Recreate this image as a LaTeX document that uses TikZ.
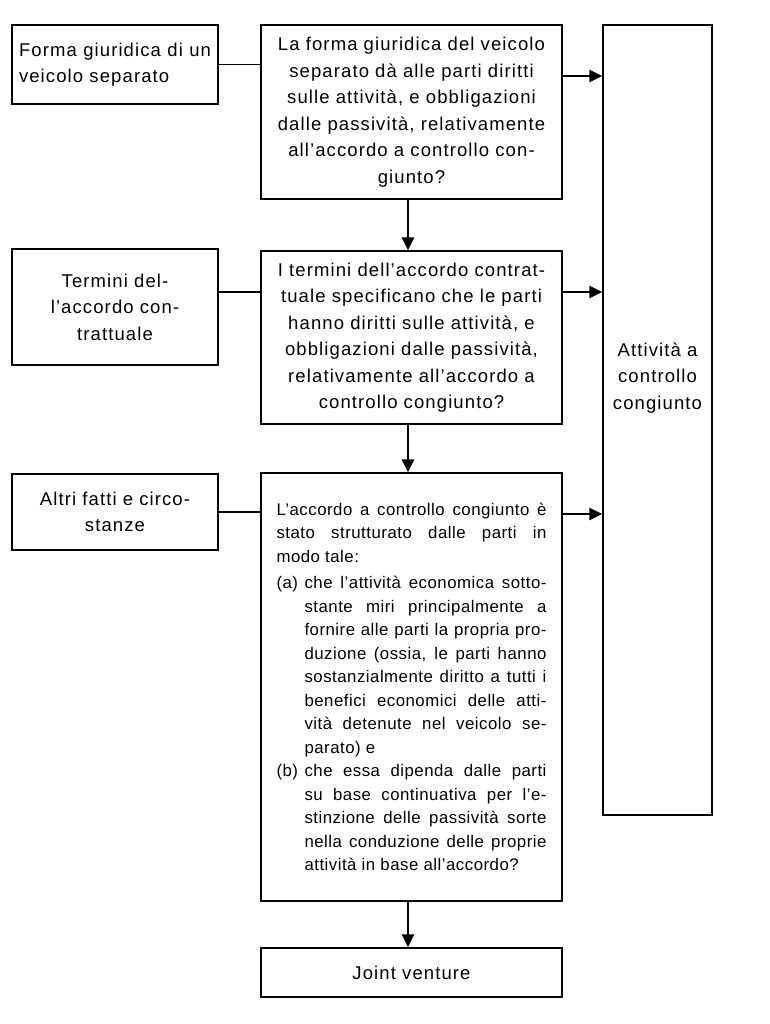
\documentclass[tikz,border=0pt]{standalone}
\usepackage{fontspec}
\setmainfont{Liberation Sans}[LetterSpace=6]
\usetikzlibrary{arrows.meta,calc}
\newenvironment{condlist}{\begin{list}{}{\leftmargin=28pt\labelwidth=28pt\labelsep=0pt
  \topsep=3pt\partopsep=0pt\parsep=0pt\itemsep=0pt\itemindent=0pt
  \def\makelabel##1{##1\hfil}}}{\end{list}}

\begin{document}
\begin{tikzpicture}[x=1pt,y=-1pt,
  >={Triangle[length=13pt,width=12pt]},
  box/.style={draw,line width=1.4pt,inner sep=0pt,font=\fontsize{18.5}{26.5}\selectfont},
  side/.style={box,minimum width=206pt,text width=192pt,align=center},
  quest/.style={box,minimum width=301pt,text width=282pt,align=center},
  item/.style={font=\fontsize{16.8}{23.5}\selectfont\addfontfeatures{LetterSpace=3},
               text width=270pt,align=justify},
  flow/.style={->,line width=2.4pt},
  link/.style={line width=1.3pt}
]
\useasboundingbox (0,0) rectangle (770,1024);

% Facts on the left, questions in the middle, outcomes on the right.
\node[side,minimum height=79pt,align=justify] (form) at (115,64.5)
  {Forma giuridica di un\linebreak veicolo separato};
\node[side,minimum height=116pt] (terms) at (115,307)
  {Termini del-\\l’accordo con-\\trattuale};
\node[side,minimum height=76pt] (other) at (115,512)
  {Altri fatti e circo-\\stanze};

\node[quest,minimum height=174pt] (q1) at (411.5,112)
  {La forma giuridica del veicolo\\separato dà alle parti diritti\\sulle attività, e obbligazioni\\dalle passività, relativamente\\all’accordo a controllo con-\\giunto?};
\node[quest,minimum height=173pt] (q2) at (411.5,337.5)
  {I termini dell’accordo contrat-\\tuale specificano che le parti\\hanno diritti sulle attività, e\\obbligazioni dalle passività,\\relativamente all’accordo a\\controllo congiunto?};
\node[quest,item,minimum height=428pt] (q3) at (411.5,687)
  {\tolerance=10000\hyphenpenalty=10000
   L’accordo a controllo congiunto è\linebreak stato strutturato dalle parti in\linebreak modo tale:
   \begin{condlist}
   \item[(a)] che l’attività economica sotto-\linebreak stante miri principalmente a\linebreak fornire alle parti la propria pro-\linebreak duzione (ossia, le parti hanno\linebreak sostanzialmente diritto a tutti i\linebreak benefici economici delle atti-\linebreak vità detenute nel veicolo se-\linebreak parato) e
   \item[(b)] che essa dipenda dalle parti\linebreak su base continuativa per l’e-\linebreak stinzione delle passività sorte\linebreak nella conduzione delle proprie\linebreak attività in base all’accordo?
   \end{condlist}};
\node[quest,minimum height=49pt] (jv) at (411.5,972.5) {Joint venture};

\node[draw,line width=1.4pt,minimum width=109pt,minimum height=790pt,inner sep=0pt]
  (jc) at (657.5,420) {};
\node[align=center,font=\fontsize{18.5}{26.5}\selectfont] (jctext) at (657.5,378)
  {Attività a\\controllo\\congiunto};

% Thin links from the facts to their question.
\coordinate (t1) at ([yshift=15pt]terms.east);
\draw[link] (form.east) -- (form.east -| q1.west);
\draw[link] (t1) -- (t1 -| q2.west);
\draw[link] (other.east) -- (other.east -| q3.west);

% "Yes" leads right, "no" leads down.
\coordinate (r1) at ([yshift=36pt]q1.east);
\coordinate (r2) at ([yshift=45.5pt]q2.east);
\coordinate (r3) at ([yshift=173pt]q3.east);
\draw[flow] (r1) -- (r1 -| jc.west);
\draw[flow] (r2) -- (r2 -| jc.west);
\draw[flow] (r3) -- (r3 -| jc.west);
\draw[flow] ([xshift=-3.5pt]q1.south) -- ([xshift=-3.5pt]q2.north);
\draw[flow] ([xshift=-3.5pt]q2.south) -- ([xshift=-3.5pt]q3.north);
\draw[flow] ([xshift=-3.5pt]q3.south) -- ([xshift=-3.5pt]jv.north);
\end{tikzpicture}
\end{document}
